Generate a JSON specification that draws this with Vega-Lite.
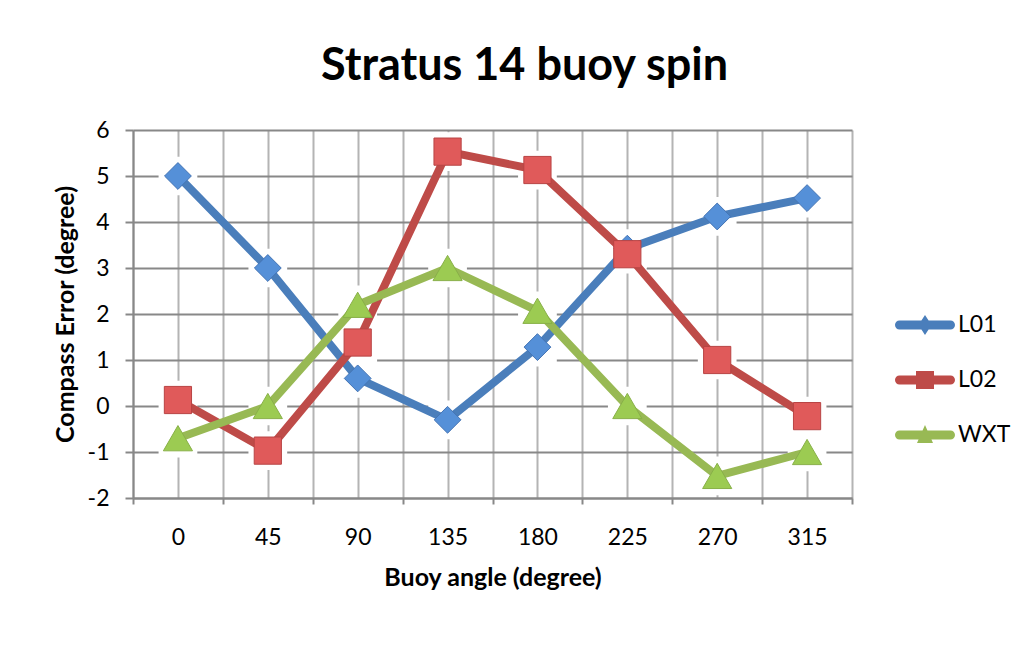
{
  "$schema": "https://vega.github.io/schema/vega-lite/v6.json",
  "width": 719,
  "height": 368,
  "autosize": {"type": "none"},
  "padding": {"left": 133, "top": 130, "right": 181, "bottom": 159},
  "background": "white",
  "config": {
    "font": "Lato",
    "view": {"stroke": null}
  },
  "title": {
    "text": "Stratus 14 buoy spin",
    "font": "Lato",
    "fontSize": 45,
    "fontWeight": "bold",
    "color": "black",
    "anchor": "middle",
    "frame": "group",
    "offset": 30,
    "dx": 32
  },
  "data": {
    "values": [
      {"angle": 0, "series": "L01", "value": 5.0},
      {"angle": 45, "series": "L01", "value": 3.0},
      {"angle": 90, "series": "L01", "value": 0.6},
      {"angle": 135, "series": "L01", "value": -0.3},
      {"angle": 180, "series": "L01", "value": 1.28},
      {"angle": 225, "series": "L01", "value": 3.42},
      {"angle": 270, "series": "L01", "value": 4.12},
      {"angle": 315, "series": "L01", "value": 4.52},
      {"angle": 0, "series": "L02", "value": 0.13},
      {"angle": 45, "series": "L02", "value": -0.97},
      {"angle": 90, "series": "L02", "value": 1.38},
      {"angle": 135, "series": "L02", "value": 5.53},
      {"angle": 180, "series": "L02", "value": 5.13},
      {"angle": 225, "series": "L02", "value": 3.3},
      {"angle": 270, "series": "L02", "value": 1.0},
      {"angle": 315, "series": "L02", "value": -0.22},
      {"angle": 0, "series": "WXT", "value": -0.7},
      {"angle": 45, "series": "WXT", "value": 0.0},
      {"angle": 90, "series": "WXT", "value": 2.2},
      {"angle": 135, "series": "WXT", "value": 3.0},
      {"angle": 180, "series": "WXT", "value": 2.07},
      {"angle": 225, "series": "WXT", "value": 0.0},
      {"angle": 270, "series": "WXT", "value": -1.52},
      {"angle": 315, "series": "WXT", "value": -1.0}
    ]
  },
  "encoding": {
    "x": {
      "field": "angle",
      "type": "quantitative",
      "scale": {"domain": [-22.5, 337.5], "nice": false, "zero": false},
      "axis": {
        "values": [-22.5, 0, 22.5, 45, 67.5, 90, 112.5, 135, 157.5, 180, 202.5, 225, 247.5, 270, 292.5, 315, 337.5],
        "labelExpr": "datum.value % 45 == 0 ? datum.value + '' : ''",
        "labelFont": "Lato",
        "labelFontSize": 23,
        "labelColor": "black",
        "labelPadding": 22,
        "labelFlush": false,
        "labelOverlap": false,
        "grid": true,
        "gridColor": "#b4b4b4",
        "gridWidth": 2,
        "domainColor": "#888888",
        "domainWidth": 2,
        "tickSize": 6,
        "tickWidth": 2,
        "tickColor": {"condition": {"test": "datum.value % 45 != 0", "value": "#888888"}, "value": "transparent"},
        "title": "Buoy angle (degree)",
        "titleFont": "Lato",
        "titleFontSize": 25,
        "titleFontWeight": "bold",
        "titleColor": "black",
        "titlePadding": 16
      }
    },
    "y": {
      "field": "value",
      "type": "quantitative",
      "scale": {"domain": [-2, 6], "nice": false, "zero": false},
      "axis": {
        "values": [-2, -1, 0, 1, 2, 3, 4, 5, 6],
        "labelExpr": "datum.value + ''",
        "labelFont": "Lato",
        "labelFontSize": 23,
        "labelColor": "black",
        "labelPadding": 16,
        "grid": true,
        "gridColor": "#888888",
        "gridWidth": 2,
        "domainColor": "#888888",
        "domainWidth": 2,
        "tickSize": 8,
        "tickWidth": 2,
        "tickColor": "#888888",
        "title": "Compass Error (degree)",
        "titleFont": "Lato",
        "titleFontSize": 25,
        "titleFontWeight": "bold",
        "titleColor": "black",
        "titlePadding": 9
      }
    }
  },
  "layer": [
    {
      "mark": {"type": "point", "filled": true, "opacity": 1, "size": 0, "strokeWidth": 0},
      "encoding": {
        "shape": {
          "field": "series",
          "type": "nominal",
          "scale": {
            "domain": ["L01", "L02", "WXT"],
            "range": [
              "M -1.275 -0.225 L -0.18 -0.225 L 0 -0.5 L 0.18 -0.225 L 1.275 -0.225 A 0.225 0.225 0 0 1 1.275 0.225 L 0.18 0.225 L 0 0.5 L -0.18 0.225 L -1.275 0.225 A 0.225 0.225 0 0 1 -1.275 -0.225 Z",
              "M -1.275 -0.225 L -0.45 -0.225 L -0.45 -0.45 L 0.45 -0.45 L 0.45 -0.225 L 1.275 -0.225 A 0.225 0.225 0 0 1 1.275 0.225 L 0.45 0.225 L 0.45 0.45 L -0.45 0.45 L -0.45 0.225 L -1.275 0.225 A 0.225 0.225 0 0 1 -1.275 -0.225 Z",
              "M -1.275 -0.225 L -0.122 -0.225 L 0 -0.5 L 0.122 -0.225 L 1.275 -0.225 A 0.225 0.225 0 0 1 1.275 0.225 L 0.322 0.225 L 0.4 0.4 L -0.4 0.4 L -0.322 0.225 L -1.275 0.225 A 0.225 0.225 0 0 1 -1.275 -0.225 Z"
            ]
          },
          "legend": {
            "title": null,
            "orient": "none",
            "legendX": 772,
            "legendY": 175,
            "padding": 0,
            "symbolSize": 1600,
            "symbolStrokeWidth": 0,
            "symbolOpacity": 1,
            "rowPadding": 23,
            "labelOffset": 13,
            "labelFont": "Lato",
            "labelFontSize": 23,
            "labelColor": "black"
          }
        },
        "color": {
          "field": "series",
          "type": "nominal",
          "scale": {"domain": ["L01", "L02", "WXT"], "range": ["#4a7ebb", "#be4b48", "#98b954"]},
          "legend": {
            "title": null,
            "orient": "none",
            "legendX": 772,
            "legendY": 175,
            "padding": 0,
            "symbolSize": 1600,
            "symbolStrokeWidth": 0,
            "symbolOpacity": 1,
            "rowPadding": 23,
            "labelOffset": 13,
            "labelFont": "Lato",
            "labelFontSize": 23,
            "labelColor": "black"
          }
        }
      }
    },
    {
      "mark": {"type": "point", "shape": "square", "filled": true, "color": "white", "opacity": 1, "size": 1500, "strokeWidth": 0}
    },
    {
      "mark": {"type": "line", "strokeWidth": 8, "strokeJoin": "round", "strokeCap": "round"},
      "encoding": {
        "stroke": {
          "field": "series",
          "type": "nominal",
          "scale": {"domain": ["L01", "L02", "WXT"], "range": ["#4a7ebb", "#be4b48", "#98b954"]},
          "legend": null
        },
        "detail": {"field": "series"}
      }
    },
    {
      "transform": [{"filter": "datum.series == 'L01'"}],
      "mark": {"type": "point", "shape": "diamond", "filled": true, "opacity": 1, "size": 720, "fill": "#5590d8", "stroke": "#4474b4", "strokeWidth": 1}
    },
    {
      "transform": [{"filter": "datum.series == 'L02'"}],
      "mark": {"type": "point", "shape": "square", "filled": true, "opacity": 1, "size": 740, "fill": "#e05a5a", "stroke": "#b84444", "strokeWidth": 1}
    },
    {
      "transform": [{"filter": "datum.series == 'WXT'"}],
      "mark": {"type": "point", "shape": "triangle-up", "filled": true, "opacity": 1, "size": 850, "fill": "#9ccb52", "stroke": "#88b048", "strokeWidth": 1}
    }
  ]
}
